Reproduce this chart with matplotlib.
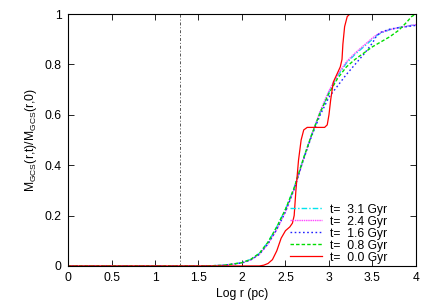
import matplotlib
matplotlib.use('Agg')
import matplotlib.pyplot as plt

plt.rcParams['font.family'] = ['Liberation Sans', 'DejaVu Sans']
plt.rcParams['mathtext.fontset'] = 'custom'
plt.rcParams['mathtext.rm'] = 'Liberation Sans'

# Values
x_31 = [0, 1.6, 1.8, 2.0, 2.1, 2.2, 2.3, 2.4, 2.5, 2.6, 2.7, 2.8, 2.9, 3.0, 3.1, 3.2, 3.3, 3.4, 3.5, 3.55, 3.6, 3.7, 3.8, 3.9, 4.0]
y_31 = [0, 0, 0.003, 0.013, 0.026, 0.05, 0.095, 0.155, 0.225, 0.31, 0.42, 0.52, 0.61, 0.69, 0.755, 0.805, 0.84, 0.87, 0.9, 0.915, 0.925, 0.938, 0.946, 0.952, 0.958]

x_24 = [0, 1.6, 1.8, 2.0, 2.1, 2.2, 2.3, 2.4, 2.5, 2.6, 2.7, 2.8, 2.9, 3.0, 3.1, 3.2, 3.3, 3.4, 3.5, 3.55, 3.6, 3.7, 3.8, 3.9, 4.0]
y_24 = [0, 0, 0.003, 0.012, 0.024, 0.046, 0.088, 0.145, 0.215, 0.305, 0.415, 0.52, 0.615, 0.695, 0.76, 0.81, 0.845, 0.875, 0.905, 0.918, 0.927, 0.938, 0.946, 0.952, 0.958]

x_16 = [0, 1.6, 1.8, 2.0, 2.1, 2.2, 2.3, 2.4, 2.5, 2.6, 2.7, 2.8, 2.9, 3.0, 3.1, 3.2, 3.3, 3.4, 3.5, 3.55, 3.6, 3.7, 3.8, 3.9, 4.0]
y_16 = [0, 0, 0.003, 0.012, 0.024, 0.046, 0.088, 0.145, 0.215, 0.305, 0.415, 0.515, 0.6, 0.67, 0.715, 0.76, 0.8, 0.84, 0.885, 0.915, 0.928, 0.94, 0.946, 0.95, 0.955]

x_08 = [0, 1.6, 1.8, 2.0, 2.1, 2.2, 2.3, 2.4, 2.5, 2.6, 2.7, 2.8, 2.9, 3.0, 3.1, 3.2, 3.3, 3.4, 3.5, 3.6, 3.7, 3.8, 3.85, 3.9, 3.95, 4.0]
y_08 = [0, 0, 0.003, 0.013, 0.026, 0.05, 0.095, 0.155, 0.225, 0.31, 0.42, 0.52, 0.61, 0.685, 0.745, 0.79, 0.82, 0.845, 0.87, 0.89, 0.91, 0.935, 0.952, 0.97, 0.99, 1.0]

x_00 = [0, 2.2, 2.25, 2.3, 2.35, 2.4, 2.45, 2.5, 2.55, 2.58, 2.6, 2.62, 2.65, 2.68, 2.71, 2.75, 2.95, 2.98, 3.0, 3.02, 3.05, 3.09, 3.13, 3.15, 3.16, 3.18, 3.21, 3.24, 4.0]
y_00 = [0, 0, 0.003, 0.01, 0.025, 0.06, 0.11, 0.14, 0.155, 0.17, 0.2, 0.3, 0.42, 0.5, 0.54, 0.55, 0.55, 0.56, 0.6, 0.66, 0.73, 0.76, 0.79, 0.82, 0.88, 0.95, 0.99, 1.0, 1.0]

r_mark = 1.29

fs = 8.7
fig = plt.figure(figsize=(4.36, 3.05), dpi=100)
ax = fig.add_axes([0.156, 0.128, 0.798, 0.826])

ax.plot([r_mark, r_mark], [0, 1], color='#555555', lw=0.7, ls=(0, (3, 2, 1, 2)))

ax.plot(x_31, y_31, color='#00e5ee', lw=1, ls=(0, (4, 1.5, 1, 1.5)), label='t=  3.1 Gyr')
ax.plot(x_24, y_24, color='#ff44ff', lw=1, ls=(0, (1, 0.6)), label='t=  2.4 Gyr')
ax.plot(x_16, y_16, color='#2222ff', lw=1, ls=(0, (1.2, 1.8)), label='t=  1.6 Gyr')
ax.plot(x_08, y_08, color='#00dd00', lw=1, ls=(0, (2.5, 1.5)), label='t=  0.8 Gyr')
ax.plot(x_00, y_00, color='#ff0000', lw=0.9, label='t=  0.0 Gyr')

ax.set_xlim(0, 4)
ax.set_ylim(0, 1)
ax.set_xticks([0, 0.5, 1, 1.5, 2, 2.5, 3, 3.5, 4])
ax.set_xticklabels(['0', '0.5', '1', '1.5', '2', '2.5', '3', '3.5', '4'])
ax.set_yticks([0, 0.2, 0.4, 0.6, 0.8, 1])
ax.set_yticklabels(['0', '0.2', '0.4', '0.6', '0.8', '1'])
ax.tick_params(direction='in', top=True, right=True, length=4, width=0.6, labelsize=fs, pad=4.5)
for s in ax.spines.values():
    s.set_linewidth(0.8)

ax.set_xlabel('Log r (pc)', fontsize=fs, labelpad=3)
ax.set_ylabel(r'M$_{\mathrm{GCS}}$(r,t)/M$_{\mathrm{GCS}}$(r,0)', fontsize=fs, labelpad=4)

ax.legend(loc='lower right', bbox_to_anchor=(0.924, 0.0), frameon=False, fontsize=fs,
          handlelength=2.65, handletextpad=0.66, labelspacing=0.0,
          borderaxespad=0.0, borderpad=0.2)

fig.savefig('out.png', dpi=100)
